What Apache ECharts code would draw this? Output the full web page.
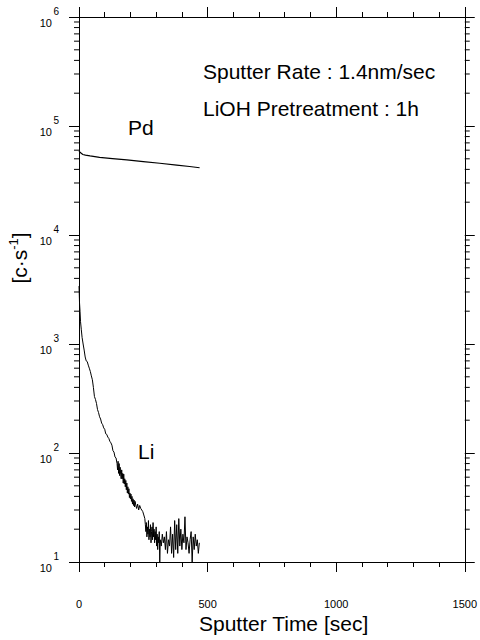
<!DOCTYPE html>
<html>
<head>
<meta charset="utf-8">
<script src="https://cdn.jsdelivr.net/npm/echarts@6/dist/echarts.min.js"></script>
<style>html,body{margin:0;padding:0;background:#fff}#c{width:480px;height:640px}</style>
</head>
<body>
<div id="c"></div>
<script>
// ---- data ----
var xTickLabels = ['0', '500', '1000', '1500'];
var yTickExponents = [1, 2, 3, 4, 5, 6];

var pdTime   = [0, 5, 15, 25, 43, 80, 130, 186, 250, 314, 380, 430, 469];
var pdCounts = [59000, 57000, 54800, 54000, 53100, 51500, 50200, 48800, 47100, 45500, 43800, 42500, 41400];

var liTime = [0,1,2,4,6,9,12,16,20,24,28,32,36,40,44,48,52,56,60,64,68,72,76,80,84,88,92,96,100,104,108,112,116,120,124,128,132,136,140,144,148,150,152,154,156,158,160,162,164,166,168,170,172,174,176,178,180,182,184,186,188,190,192,194,196,198,200,202,204,206,208,210,212,214,216,218,220,224,228,232,236,240,244,248,252,256,258,260,262,264,266,268,270,272,274,276,278,280,282,284,286,288,290,292,294,296,298,300,302,304,306,308,310,312,314,316,320,324,328,332,336,340,344,348,352,356,360,364,368,372,376,380,384,388,392,396,400,404,408,412,416,420,424,428,432,436,440,444,448,452,456,460,464,468];
var liCounts = [3400,2900,2400,2000,1600,1350,1150,1000,880,760,700,690,640,600,560,510,470,400,330,310,285,250,235,215,205,188,182,170,165,150,148,140,136,128,124,118,105,102,92,90,80,70,84,65,80,62,74,64,58,70,58,65,53,64,52,58,49,56,46,53,43,49,42,47,39,43,38,42,36,40,34,38,33,37,32,36,34,31,34,30,33,31,30,29,27,25,22,19,23,17,21,18,24,16,20,17,22,15,19,21,16,23,17,20,15,19,16,21,14,18,13,17,15,19,10,16,14,18,15,17,13,19,12,16,14,21,12,18,11,24,13,22,12,25,14,20,13,18,15,26,13,17,15,12,16,19,10,17,13,18,14,16,12,15,17,16];

var minorTicks = [];
for (var k = 1; k < 6; k++) { for (var m = 2; m <= 9; m++) { minorTicks.push(m * Math.pow(10, k)); } }

function zip(a, b) { return a.map(function (v, i) { return [v, b[i]]; }); }

var FONT = 'Liberation Sans, Arial, sans-serif';
var chart = echarts.init(document.getElementById('c'), null, { renderer: 'svg' });

var yLabel = {
  show: true, margin: 20, color: '#000', fontFamily: FONT, align: 'right',
  formatter: function (v) {
    var e = Math.round(Math.log10(v));
    return '{e|' + e + '}\n{b|10}';
  },
  rich: {
    e: { fontSize: 10, lineHeight: 11, fontFamily: FONT, color: '#000' },
    b: { fontSize: 11, lineHeight: 11, fontFamily: FONT, color: '#000', padding: [0, 7, 0, 0] }
  }
};

var axisLineStyle = { show: true, onZero: false, lineStyle: { color: '#000', width: 1 } };

chart.setOption({
  animation: false,
  backgroundColor: '#fff',
  grid: { left: 79, right: 14, top: 17, bottom: 78 },
  xAxis: [{
    type: 'value', position: 'bottom', min: 0, max: 1500, interval: 500,
    axisLine: axisLineStyle,
    axisTick: { show: true, length: 10, lineStyle: { color: '#000' } },
    minorTick: { show: true, splitNumber: 5, length: 5, lineStyle: { color: '#000' } },
    splitLine: { show: false },
    axisLabel: { margin: 36, fontSize: 11, color: '#000', fontFamily: FONT,
      formatter: function (v) { return xTickLabels[Math.round(v / 500)]; } }
  }, {
    type: 'value', position: 'top', min: 0, max: 1500, interval: 500,
    axisLine: axisLineStyle,
    axisTick: { show: true, length: 10, lineStyle: { color: '#000' } },
    minorTick: { show: true, splitNumber: 5, length: 5, lineStyle: { color: '#000' } },
    splitLine: { show: false }, axisLabel: { show: false }
  }],
  yAxis: [{
    type: 'log', logBase: 10, min: 10, max: 1e6, position: 'left',
    axisLine: axisLineStyle,
    axisTick: { show: true, length: 10, lineStyle: { color: '#000' } },
    splitLine: { show: false },
    axisLabel: yLabel
  }, {
    type: 'log', logBase: 10, min: 10, max: 1e6, position: 'right',
    axisLine: axisLineStyle,
    axisTick: { show: true, length: 10, lineStyle: { color: '#000' } },
    splitLine: { show: false }, axisLabel: { show: false }
  }],
  series: [{
    type: 'line', name: 'Pd', data: zip(pdTime, pdCounts), showSymbol: false, smooth: false,
    lineStyle: { color: '#000', width: 1.2 }, z: 5
  }, {
    type: 'line', name: 'Li', data: zip(liTime, liCounts), showSymbol: false,
    lineStyle: { color: '#000', width: 1 }, z: 5
  }, {
    type: 'custom', name: 'minorY', silent: true, clip: false,
    data: minorTicks.map(function (v) { return [0, v]; }),
    renderItem: function (params, api) {
      var v = api.value(1);
      var p = api.coord([0, v]);
      var q = api.coord([1500, v]);
      return { type: 'group', children: [
        { type: 'line', shape: { x1: p[0] - 5, y1: p[1], x2: p[0], y2: p[1] }, style: { stroke: '#000', lineWidth: 1 } },
        { type: 'line', shape: { x1: q[0], y1: q[1], x2: q[0] + 5, y2: q[1] }, style: { stroke: '#000', lineWidth: 1 } }
      ] };
    }
  }],
  graphic: [
    { type: 'text', left: 203, top: 61, style: { text: 'Sputter Rate : 1.4nm/sec', font: '21px ' + FONT, fill: '#000' } },
    { type: 'text', left: 203, top: 98, style: { text: 'LiOH Pretreatment : 1h', font: '21px ' + FONT, fill: '#000' } },
    { type: 'text', left: 128, top: 117, style: { text: 'Pd', font: '21px ' + FONT, fill: '#000' } },
    { type: 'text', left: 138, top: 441, style: { text: 'Li', font: '21px ' + FONT, fill: '#000' } },
    { type: 'text', left: 199, top: 613, style: { text: 'Sputter Time [sec]', font: '21px ' + FONT, fill: '#000' } },
    { type: 'text', x: 19, y: 258, rotation: Math.PI / 2,
      style: { text: '[c·s{s|-1}]', font: '21px ' + FONT, fill: '#000', align: 'center', verticalAlign: 'middle',
        rich: { s: { fontSize: 13, fontFamily: FONT, padding: [0, 0, 11, 0], fill: '#000' } } } }
  ]
});
</script>
</body>
</html>
